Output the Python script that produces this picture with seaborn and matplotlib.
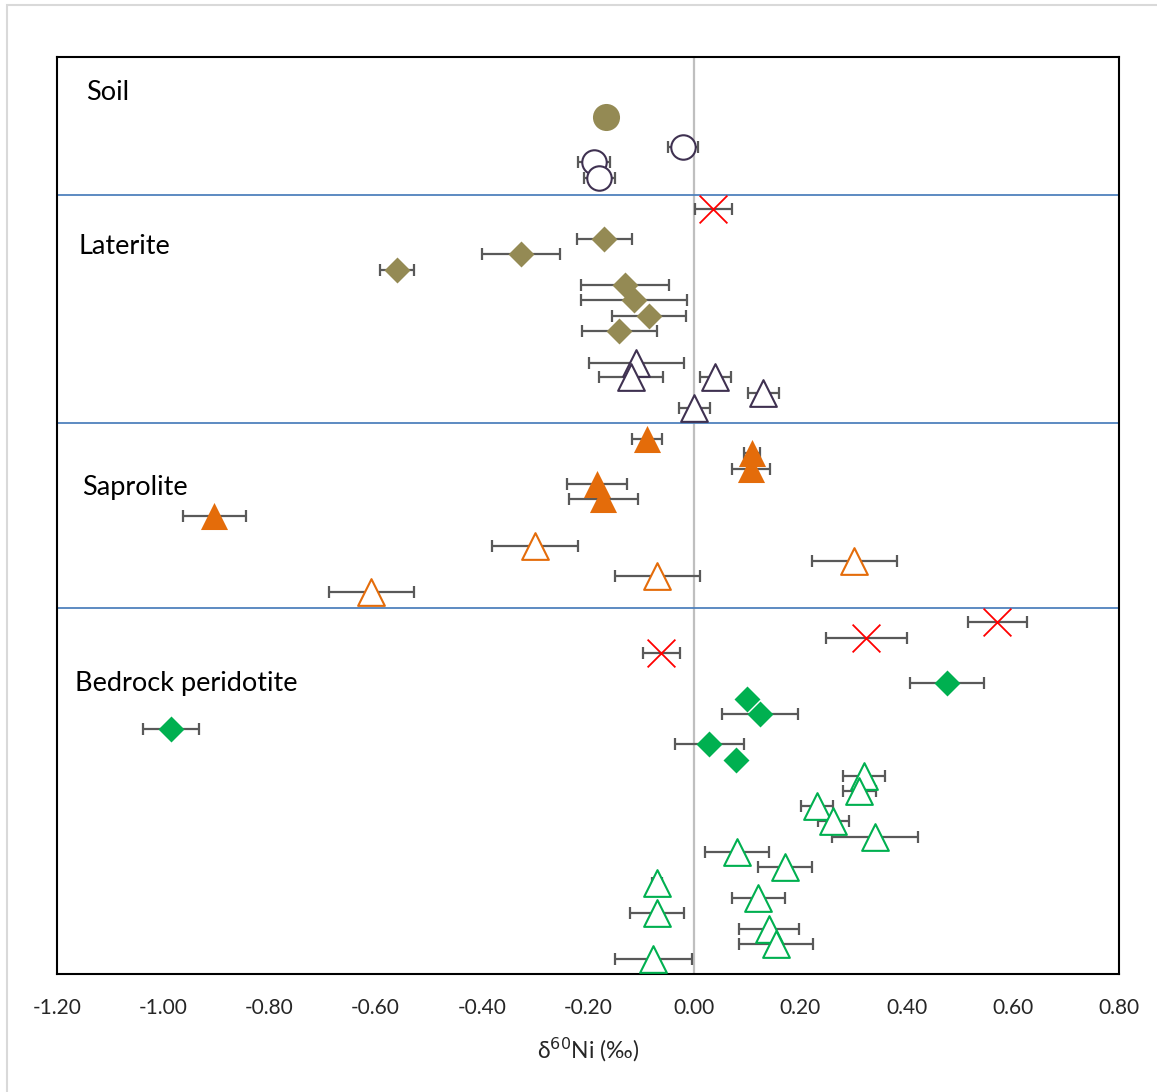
import matplotlib
matplotlib.use("Agg")
import matplotlib.pyplot as plt
from matplotlib.patches import Rectangle
import numpy as np
import pandas as pd
import seaborn as sns

# ---- delta60Ni values (permil), 2SD uncertainties and stacking positions ----
soil_fill_x = [-0.166]
soil_fill_err = [0.0]
soil_fill_y = [85.7]

soil_open_x = [-0.021, -0.188, -0.179]
soil_open_err = [0.029, 0.030, 0.029]
soil_open_y = [82.7, 81.2, 79.6]

cross_x = [0.036, 0.571, 0.324, -0.062]
cross_err = [0.035, 0.055, 0.076, 0.035]
cross_y = [76.5, 35.2, 33.6, 32.1]

lat_dia_x = [-0.169, -0.326, -0.559, -0.130, -0.113, -0.085, -0.141]
lat_dia_err = [0.052, 0.074, 0.032, 0.083, 0.100, 0.070, 0.071]
lat_dia_y = [73.5, 72.0, 70.4, 68.9, 67.4, 65.8, 64.3]

lat_tri_x = [-0.109, -0.119, 0.040, 0.130, 0.000]
lat_tri_err = [0.090, 0.060, 0.030, 0.029, 0.029]
lat_tri_y = [61.1, 59.7, 59.7, 58.1, 56.6]

sap_fill_x = [-0.089, 0.109, 0.107, -0.183, -0.171, -0.904]
sap_fill_err = [0.028, 0.015, 0.036, 0.056, 0.065, 0.059]
sap_fill_y = [53.5, 52.1, 50.5, 49.0, 47.5, 45.8]

sap_open_x = [-0.299, 0.301, -0.070, -0.608]
sap_open_err = [0.081, 0.080, 0.080, 0.080]
sap_open_y = [42.8, 41.3, 39.8, 38.2]

bed_dia_x = [0.476, 0.100, 0.124, -0.985, 0.028, 0.079]
bed_dia_err = [0.069, 0.0, 0.071, 0.053, 0.065, 0.0]
bed_dia_y = [29.1, 27.5, 26.0, 24.5, 23.0, 21.4]

bed_tri_x = [0.320, 0.311, 0.232, 0.262, 0.341, 0.081, 0.171,
             -0.070, 0.121, -0.070, 0.141, 0.154, -0.077]
bed_tri_err = [0.040, 0.031, 0.030, 0.029, 0.081, 0.060, 0.051,
               0.010, 0.050, 0.050, 0.056, 0.069, 0.073]
bed_tri_y = [19.8, 18.3, 16.8, 15.3, 13.7, 12.2, 10.7,
             9.1, 7.6, 6.1, 4.5, 3.0, 1.5]

zone_bounds = [77.9, 55.1, 36.6]
zone_names = ["Soil", "Laterite", "Saprolite", "Bedrock peridotite"]
zone_label_x = [-1.145, -1.160, -1.153, -1.166]
zone_label_y = [88.2, 72.8, 48.7, 29.0]

x_ticks = [-1.20, -1.00, -0.80, -0.60, -0.40, -0.20, 0.00, 0.20, 0.40, 0.60, 0.80]

OLIVE = "#948A54"
PURPLE = "#3F3151"
ORANGE = "#E46C0A"
GREEN = "#00B050"
RED = "#FF0000"
ERR = "#595959"

sns.set_theme(style="white")
plt.rcParams["font.family"] = ["Lato", "DejaVu Sans"]

fig = plt.figure(figsize=(11.57, 10.92), dpi=100)
ax = fig.add_axes([57 / 1157, 1 - 974 / 1092, (1119 - 57) / 1157, (974 - 57) / 1092])

# outer frame of the figure (only its top and left edges fall inside the canvas)
fig.patches.append(Rectangle((7 / 1157, -0.2), 1.2, 1.2 - 5 / 1092, transform=fig.transFigure,
                             fill=False, edgecolor="#D9D9D9", linewidth=1.5, zorder=-1))

ax.axvline(0, color="#BFBFBF", lw=1.6, zorder=1)
for yb in zone_bounds:
    ax.axhline(yb, color="#4F81BD", lw=1.3, zorder=1)

series = [
    ("soil_fill", soil_fill_x, soil_fill_err, soil_fill_y, "o", 380, OLIVE, OLIVE, 0),
    ("soil_open", soil_open_x, soil_open_err, soil_open_y, "o", 310, "white", PURPLE, 1.5),
    ("lat_dia", lat_dia_x, lat_dia_err, lat_dia_y, "D", 175, OLIVE, OLIVE, 0),
    ("lat_tri", lat_tri_x, lat_tri_err, lat_tri_y, "^", 370, "white", PURPLE, 1.5),
    ("sap_fill", sap_fill_x, sap_fill_err, sap_fill_y, "^", 380, ORANGE, ORANGE, 0),
    ("sap_open", sap_open_x, sap_open_err, sap_open_y, "^", 370, "white", ORANGE, 1.5),
    ("bed_dia", bed_dia_x, bed_dia_err, bed_dia_y, "D", 175, GREEN, GREEN, 0),
    ("bed_tri", bed_tri_x, bed_tri_err, bed_tri_y, "^", 370, "white", GREEN, 1.5),
    ("cross", cross_x, cross_err, cross_y, "x", 400, RED, RED, 1.3),
]

z = 3
for name, xs, es, ys, mk, size, fc, ec, lw in series:
    df = pd.DataFrame({"x": xs, "y": ys, "err": es})
    eb = df[df["err"] > 0]
    ax.errorbar(eb["x"], eb["y"], xerr=eb["err"], fmt="none", ecolor=ERR,
                elinewidth=1.6, capsize=4.5, capthick=1.6, zorder=z)
    if mk == "x":
        sns.scatterplot(data=df, x="x", y="y", marker="x", s=size, color=RED,
                        linewidth=lw, ax=ax, zorder=z + 1, legend=False)
    else:
        sns.scatterplot(data=df, x="x", y="y", marker=mk, s=size, facecolor=fc,
                        edgecolor=ec, linewidth=lw, ax=ax, zorder=z + 1, legend=False)
    z += 2

for name, lx, ly in zip(zone_names, zone_label_x, zone_label_y):
    ax.text(lx, ly, name, fontsize=19.5, ha="left", va="center", color="black")

ax.set_xlim(-1.2, 0.8)
ax.set_ylim(0, 91.7)
ax.set_xticks(x_ticks)
ax.set_xticklabels([f"{t:.2f}" for t in x_ticks], fontsize=15)
ax.set_yticks([])
ax.tick_params(axis="x", length=0, pad=17)
ax.set_xlabel(r"δ$^{60}$Ni (‰)", fontsize=16.5, labelpad=13)
ax.set_ylabel("")
ax.grid(False)
for sp in ax.spines.values():
    sp.set_color("black")
    sp.set_linewidth(1.5)

fig.savefig("out.png", dpi=100)
